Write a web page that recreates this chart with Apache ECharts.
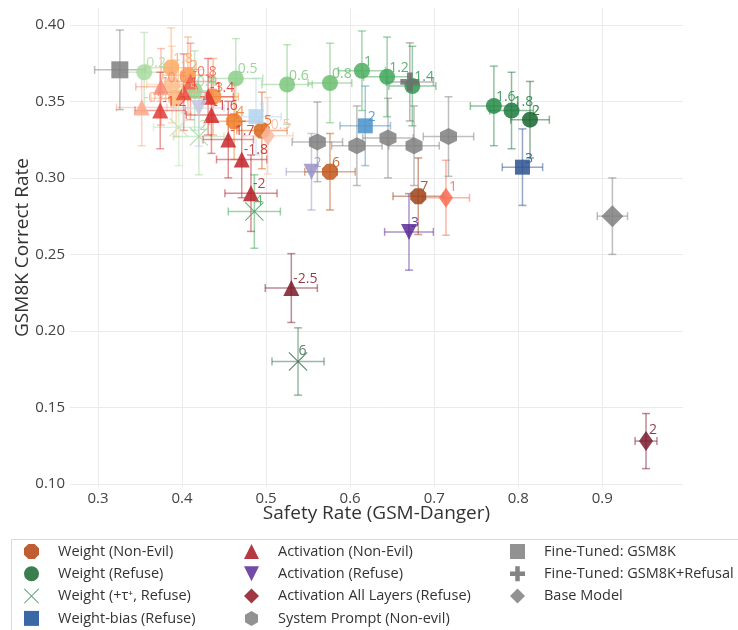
<!DOCTYPE html>
<html>
<head>
<meta charset="utf-8">
<script src="https://cdn.jsdelivr.net/npm/echarts@6/dist/echarts.min.js"></script>
<style>
  html, body { margin: 0; padding: 0; background: #ffffff; }
  #chart { width: 738px; height: 630px; }
</style>
</head>
<body>
<div id="chart"></div>
<script>
// Each point: [safety rate, GSM8K correct rate, safety error, GSM8K error]

const weightNonEvilLabels = ['1', '1.5', '1.8', '2', '3', '4', '5', '6', '7'];
const weightNonEvilPoints = [
  [0.388, 0.361, 0.030, 0.025],
  [0.393, 0.352, 0.030, 0.025],
  [0.387, 0.372, 0.030, 0.026],
  [0.407, 0.367, 0.030, 0.025],
  [0.437, 0.353, 0.030, 0.025],
  [0.462, 0.337, 0.030, 0.025],
  [0.495, 0.331, 0.030, 0.025],
  [0.576, 0.304, 0.030, 0.025],
  [0.681, 0.288, 0.030, 0.025]
];

const weightRefuseLabels = ['0.2', '0.4', '0.5', '0.6', '0.8', '1', '1.2', '1.4', '1.6', '1.8', '2'];
const weightRefusePoints = [
  [0.355, 0.369, 0.030, 0.026],
  [0.415, 0.357, 0.030, 0.026],
  [0.464, 0.365, 0.032, 0.026],
  [0.525, 0.361, 0.030, 0.026],
  [0.576, 0.362, 0.026, 0.026],
  [0.614, 0.370, 0.028, 0.026],
  [0.644, 0.366, 0.028, 0.026],
  [0.674, 0.360, 0.028, 0.026],
  [0.771, 0.347, 0.028, 0.026],
  [0.792, 0.344, 0.026, 0.025],
  [0.814, 0.338, 0.023, 0.025]
];

const weightTauLabels = ['1', '2', '4', '6'];
const weightTauPoints = [
  [0.396, 0.333, 0.030, 0.025],
  [0.420, 0.327, 0.030, 0.025],
  [0.486, 0.278, 0.031, 0.024],
  [0.538, 0.180, 0.031, 0.022]
];

const weightBiasLabels = ['1', '2', '3'];
const weightBiasPoints = [
  [0.488, 0.340, 0.030, 0.025],
  [0.618, 0.334, 0.030, 0.026],
  [0.805, 0.307, 0.024, 0.025]
];

const activationNonEvilLabels = ['-0.4', '-0.6', '-0.8', '-1', '-1.2', '-1.4', '-1.6', '-1.7', '-1.8', '-2', '-2.5'];
const activationNonEvilPoints = [
  [0.352, 0.346, 0.030, 0.025],
  [0.375, 0.3595, 0.030, 0.025],
  [0.410, 0.363, 0.030, 0.025],
  [0.402, 0.356, 0.030, 0.025],
  [0.374, 0.344, 0.030, 0.025],
  [0.431, 0.353, 0.030, 0.025],
  [0.435, 0.341, 0.030, 0.025],
  [0.455, 0.325, 0.030, 0.025],
  [0.471, 0.312, 0.030, 0.025],
  [0.482, 0.290, 0.031, 0.025],
  [0.530, 0.228, 0.031, 0.0225]
];

const activationRefuseLabels = ['1', '2', '3'];
const activationRefusePoints = [
  [0.420, 0.3457, 0.030, 0.025],
  [0.554, 0.304, 0.030, 0.025],
  [0.670, 0.2647, 0.029, 0.025]
];

const activationAllLabels = ['0.5', '1', '2'];
const activationAllPoints = [
  [0.502, 0.3275, 0.030, 0.025],
  [0.714, 0.287, 0.028, 0.0245],
  [0.952, 0.128, 0.013, 0.018]
];

const systemPromptPoints = [
  [0.561, 0.3235, 0.030, 0.026],
  [0.608, 0.321, 0.030, 0.026],
  [0.645, 0.326, 0.030, 0.026],
  [0.676, 0.321, 0.030, 0.026],
  [0.717, 0.327, 0.030, 0.026]
];

const fineTunedGsmPoints = [[0.326, 0.3706, 0.030, 0.026]];
const fineTunedRefusalPoints = [[0.671, 0.3627, 0.028, 0.0255]];
const baseModelPoints = [[0.912, 0.275, 0.018, 0.025]];

// Per-point colour ramps, light to dark within each group
const orangeRamp = ['#fdc28f', '#fdb77a', '#fdab66', '#fd9c52', '#f88a3c', '#f07a25', '#db6418', '#c2561a', '#9e4217'];
const greenRamp = ['#a8dca0', '#98d494', '#8ccf88', '#7dc77c', '#6bbd6e', '#4cae5f', '#3ea658', '#2f9a4f', '#248a46', '#1d7a3e', '#17662f'];
const tauRamp = ['#bde5b6', '#a3d99c', '#3ea65c', '#3d6e50'];
const blueRamp = ['#b3d3ee', '#4a90c8', '#2d5290'];
const redRamp = ['#fca88c', '#f88a72', '#f06454', '#e84c40', '#e03c36', '#d93232', '#d22c2e', '#ca282c', '#c22328', '#b61e27', '#7d1a26'];
const purpleRamp = ['#c6c6e2', '#9a93c8', '#5a2a96'];
const salmonRamp = ['#fcbba1', '#f96b50', '#7b1a30'];
const GREY = '#7f7f7f';

const FONT = '"Open Sans", "Noto Sans", sans-serif';
const TEXT = '#333333';

// Marker outlines (unit box paths)
const OCTAGON = 'path://M0.29,0L0.71,0L1,0.29L1,0.71L0.71,1L0.29,1L0,0.71L0,0.29Z';
const HEXAGON = 'path://M0.5,0L0.933,0.25L0.933,0.75L0.5,1L0.067,0.75L0.067,0.25Z';
const DOWN_TRIANGLE = 'path://M0,0L1,0L0.5,1Z';
const THIN_X = 'path://M0,0.04L0.04,0L0.5,0.46L0.96,0L1,0.04L0.54,0.5L1,0.96L0.96,1L0.5,0.54L0.04,1L0,0.96L0.46,0.5Z';
const CROSS = 'path://M0.35,0L0.65,0L0.65,0.35L1,0.35L1,0.65L0.65,0.65L0.65,1L0.35,1L0.35,0.65L0,0.65L0,0.35L0.35,0.35Z';

const groups = [
  { name: 'Weight (Non-Evil)', points: weightNonEvilPoints, labels: weightNonEvilLabels, colors: orangeRamp, legendColor: '#b4420e', symbol: OCTAGON, size: 16 },
  { name: 'Weight (Refuse)', points: weightRefusePoints, labels: weightRefuseLabels, colors: greenRamp, legendColor: '#17662f', symbol: 'circle', size: 16 },
  { name: 'Weight (+τ⁺, Refuse)', points: weightTauPoints, labels: weightTauLabels, colors: tauRamp, legendColor: '#2e8b57', symbol: THIN_X, size: 19 },
  { name: 'Weight-bias (Refuse)', points: weightBiasPoints, labels: weightBiasLabels, colors: blueRamp, legendColor: '#174e96', symbol: 'rect', size: 15 },
  { name: 'Activation (Non-Evil)', points: activationNonEvilPoints, labels: activationNonEvilLabels, colors: redRamp, legendColor: '#a8161e', symbol: 'triangle', size: 16 },
  { name: 'Activation (Refuse)', points: activationRefusePoints, labels: activationRefuseLabels, colors: purpleRamp, legendColor: '#5a2a96', symbol: DOWN_TRIANGLE, size: 16 },
  { name: 'Activation All Layers (Refuse)', points: activationAllPoints, labels: activationAllLabels, colors: salmonRamp, legendColor: '#8e1522', symbol: 'diamond', size: [14, 20] },
  { name: 'System Prompt (Non-evil)', points: systemPromptPoints, labels: null, colors: null, legendColor: GREY, symbol: HEXAGON, size: 17 },
  { name: 'Fine-Tuned: GSM8K', points: fineTunedGsmPoints, labels: null, colors: null, legendColor: GREY, symbol: 'rect', size: 17 },
  { name: 'Fine-Tuned: GSM8K+Refusal', points: fineTunedRefusalPoints, labels: null, colors: null, legendColor: '#6f6f6f', symbol: CROSS, size: 19 },
  { name: 'Base Model', points: baseModelPoints, labels: null, colors: null, legendColor: GREY, symbol: 'diamond', size: [22, 22] }
];

function renderErrorBar(params, api) {
  const x = api.value(0), y = api.value(1), ex = api.value(2), ey = api.value(3);
  const c = api.coord([x, y]);
  const l = api.coord([x - ex, y])[0];
  const r = api.coord([x + ex, y])[0];
  const t = api.coord([x, y + ey])[1];
  const b = api.coord([x, y - ey])[1];
  const cap = 4;
  const style = { stroke: api.visual('color'), lineWidth: 1.5, opacity: 0.5 };
  const seg = (x1, y1, x2, y2) => ({ type: 'line', shape: { x1, y1, x2, y2 }, style });
  return {
    type: 'group',
    children: [
      seg(l, c[1], r, c[1]),
      seg(l, c[1] - cap, l, c[1] + cap),
      seg(r, c[1] - cap, r, c[1] + cap),
      seg(c[0], t, c[0], b),
      seg(c[0] - cap, t, c[0] + cap, t),
      seg(c[0] - cap, b, c[0] + cap, b)
    ]
  };
}

const series = [];
groups.forEach((g, gi) => {
  const colorAt = i => (g.colors ? g.colors[i] : g.legendColor);
  series.push({
    type: 'custom',
    name: 'err-' + gi,
    renderItem: renderErrorBar,
    silent: true,
    data: g.points.map((p, i) => ({ value: p, itemStyle: { color: colorAt(i) } })),
    encode: { x: 0, y: 1 },
    z: 2
  });
  series.push({
    type: 'scatter',
    name: g.name,
    symbol: g.symbol,
    symbolSize: g.size,
    itemStyle: { color: g.legendColor, opacity: 0.85 },
    label: {
      show: !!g.labels,
      position: [10, -1],
      align: 'left',
      verticalAlign: 'middle',
      fontFamily: FONT,
      fontSize: 14
    },
    emphasis: { disabled: true },
    data: g.points.map((p, i) => ({
      value: [p[0], p[1]],
      itemStyle: { color: colorAt(i) },
      label: { formatter: g.labels ? g.labels[i] : '', color: colorAt(i) }
    })),
    z: 2
  });
});

const legendText = { fontFamily: FONT, fontSize: 14.5, lineHeight: 15, color: TEXT, padding: [0, 0, 0, 14] };
const legendIcon = g => ({ name: g.name, icon: g.symbol });
const legendCommon = {
  orient: 'vertical',
  top: 544,
  padding: 0,
  height: 90,
  itemWidth: 15,
  itemHeight: 15,
  itemGap: 7.3,
  textStyle: legendText,
  selectedMode: false
};

const chart = echarts.init(document.getElementById('chart'), null, { renderer: 'canvas' });
chart.setOption({
  backgroundColor: '#ffffff',
  animation: false,
  textStyle: { fontFamily: FONT },
  grid: { left: 70, right: 55, top: 8, bottom: 143, containLabel: false },
  xAxis: {
    type: 'value',
    min: 0.2667,
    max: 0.996,
    name: 'Safety Rate (GSM-Danger)',
    nameLocation: 'middle',
    nameGap: 17,
    nameMoveOverlap: false,
    nameTextStyle: { fontFamily: FONT, fontSize: 19, color: TEXT },
    axisLine: { show: false },
    axisTick: { show: false },
    axisLabel: {
      fontFamily: FONT, fontSize: 15, color: '#444', margin: 4,
      showMinLabel: false, showMaxLabel: false,
      formatter: v => v.toFixed(1)
    },
    splitLine: { show: true, lineStyle: { color: '#ebebeb', width: 1 }, showMinLine: false, showMaxLine: false }
  },
  yAxis: {
    type: 'value',
    min: 0.098,
    max: 0.411,
    name: 'GSM8K Correct Rate',
    nameLocation: 'middle',
    nameGap: 38,
    nameMoveOverlap: false,
    nameTextStyle: { fontFamily: FONT, fontSize: 19, color: TEXT },
    axisLine: { show: false },
    axisTick: { show: false },
    axisLabel: {
      fontFamily: FONT, fontSize: 15, color: '#444', margin: 5,
      showMinLabel: false, showMaxLabel: false,
      formatter: v => v.toFixed(2)
    },
    splitLine: { show: true, lineStyle: { color: '#ebebeb', width: 1 }, showMinLine: false, showMaxLine: false }
  },
  legend: [
    Object.assign({}, legendCommon, { left: 24, data: groups.slice(0, 4).map(legendIcon) }),
    Object.assign({}, legendCommon, { left: 244, data: groups.slice(4, 8).map(legendIcon) }),
    Object.assign({}, legendCommon, { left: 510, data: groups.slice(8, 11).map(legendIcon) })
  ],
  graphic: [{
    type: 'rect',
    left: 9,
    top: 537,
    shape: { width: 760, height: 120 },
    style: { fill: 'none', stroke: '#d9d9d9', lineWidth: 1 },
    silent: true
  }],
  series: series
});
</script>
</body>
</html>
